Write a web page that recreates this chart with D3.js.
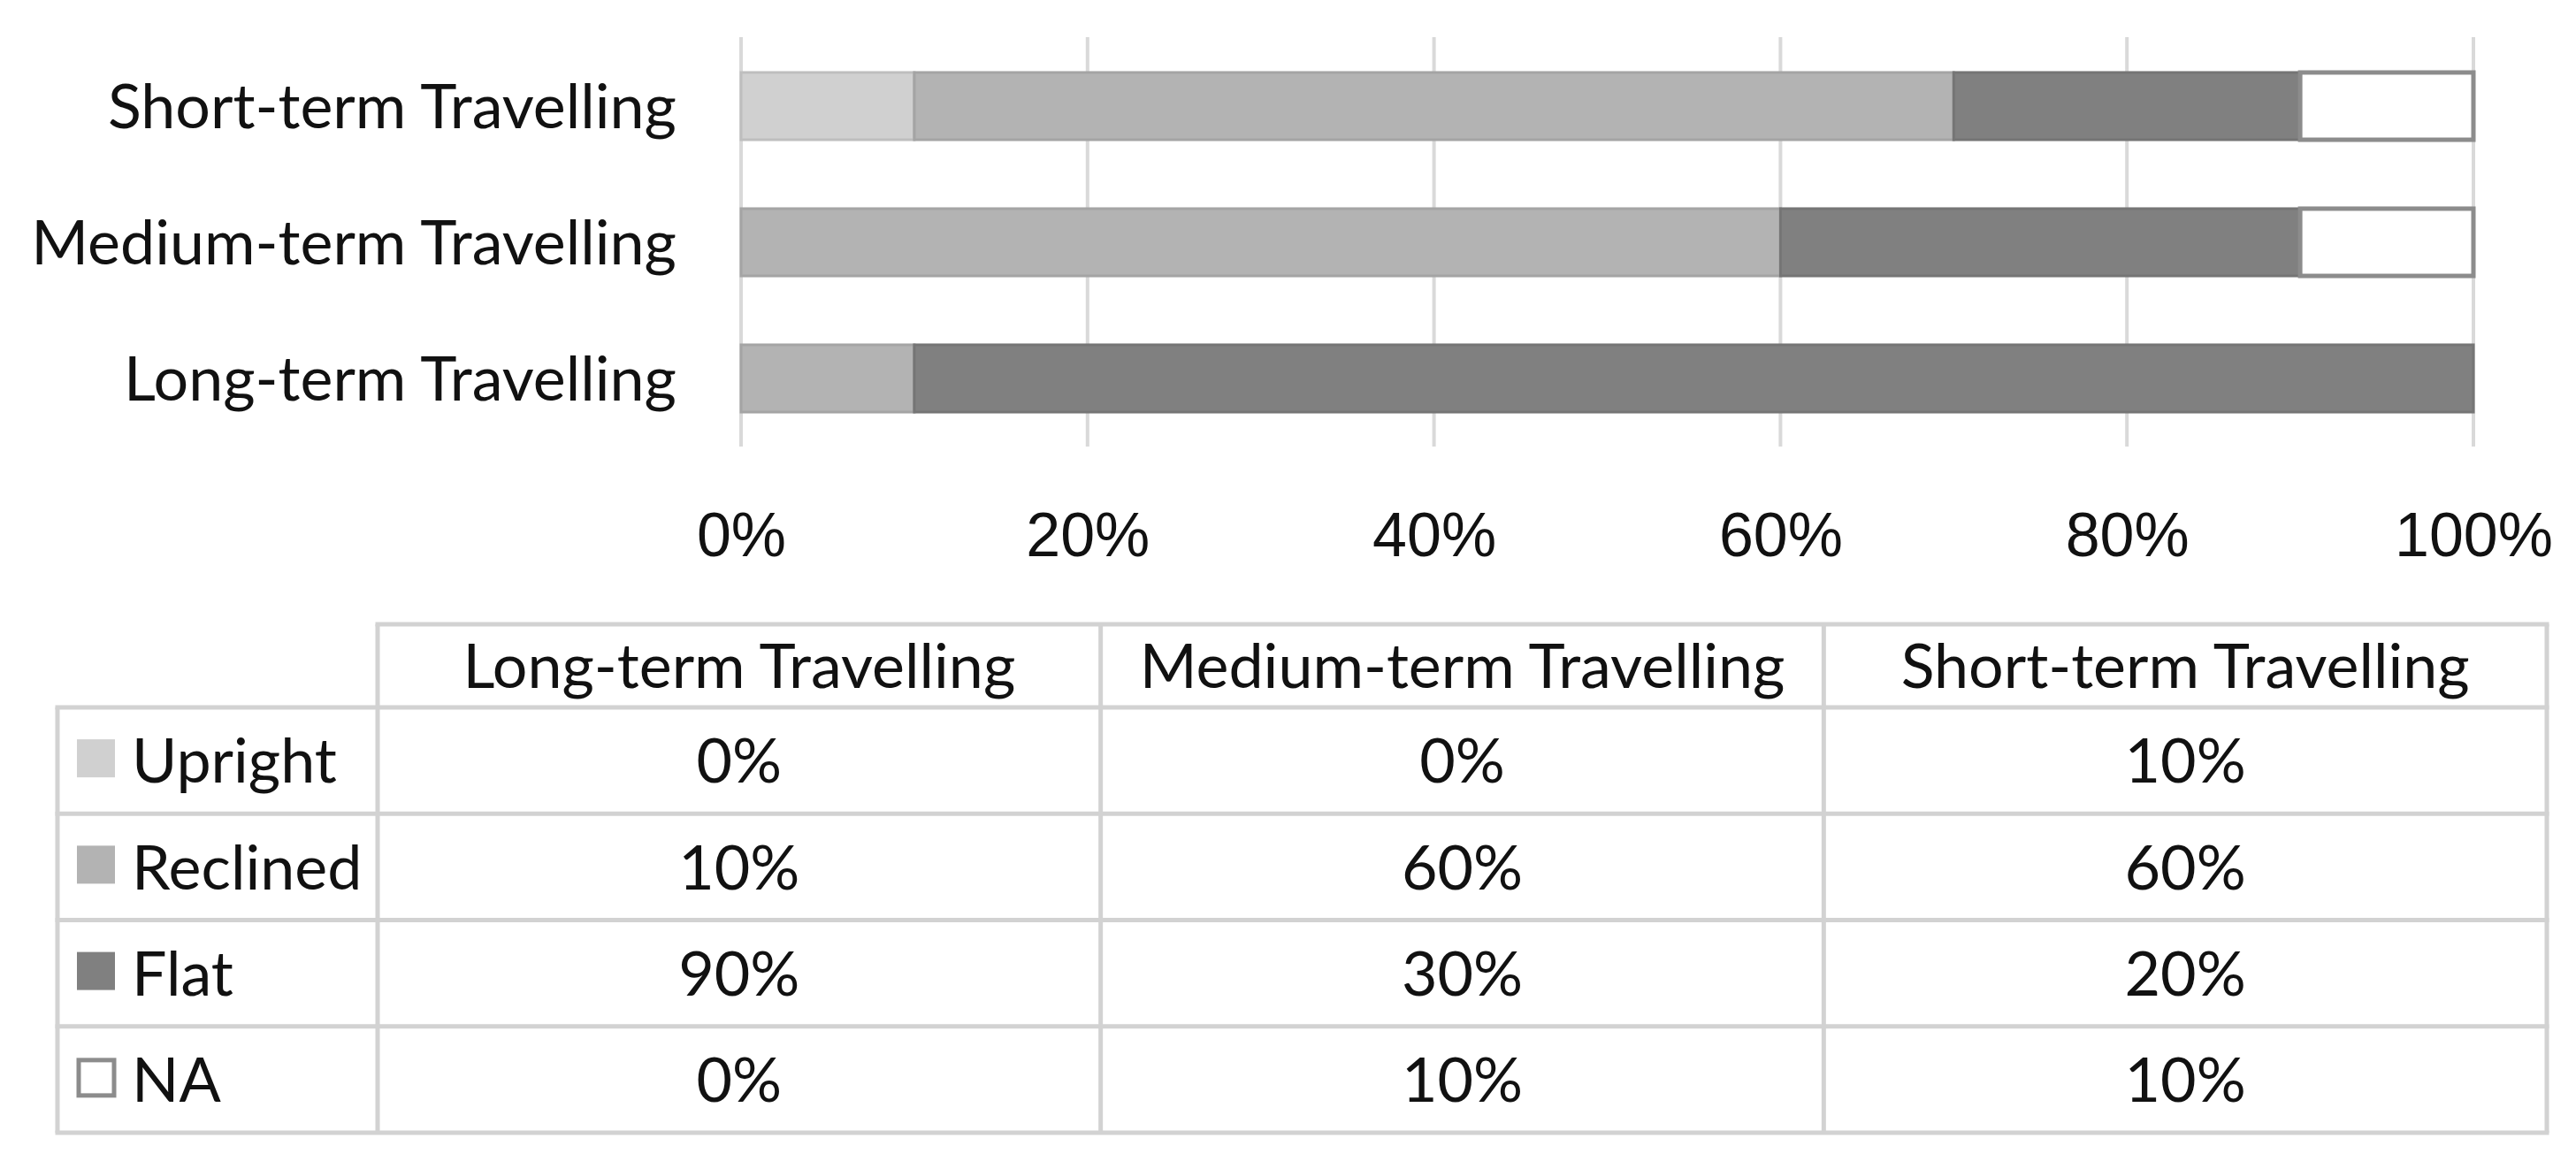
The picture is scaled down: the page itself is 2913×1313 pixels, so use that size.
<!DOCTYPE html>
<html>
<head>
<meta charset="utf-8">
<script src="https://cdn.jsdelivr.net/npm/d3@7"></script>
<style>
  html, body { margin: 0; padding: 0; background: #fff; }
  svg { display: block; font-family: Lato, "Open Sans", sans-serif; }
</style>
</head>
<body>
<script>
// data (percent)
const barOrder = ['Short-term Travelling', 'Medium-term Travelling', 'Long-term Travelling'];
const tableOrder = ['Long-term Travelling', 'Medium-term Travelling', 'Short-term Travelling'];
const positions = ['Upright', 'Reclined', 'Flat', 'NA'];
// values follow tableOrder: Long, Medium, Short
const upright = [0, 0, 10];
const reclined = [10, 60, 60];
const flat = [90, 30, 20];
const na = [0, 10, 10];
const xTicks = [0, 20, 40, 60, 80, 100];

const colors = {
  Upright: '#d0d0d0', Reclined: '#b3b3b3', Flat: '#808080', NA: '#ffffff',
};

const width = 2913;
const height = 1313;

const rows = tableOrder.map((name, i) => ({
  name,
  Upright: upright[i],
  Reclined: reclined[i],
  Flat: flat[i],
  NA: na[i],
}));

const svg = d3.select('body').append('svg')
  .attr('width', width)
  .attr('height', height);

// fit the font so the labels take about the width they do in the picture
const probe = svg.append('text').attr('font-size', 100).text('Long-term Travelling');
const fs = 100 * 625 / probe.node().getComputedTextLength();
probe.remove();
const capShift = fs * 0.36;

const x = d3.scaleLinear()
  .domain([0, 100])
  .range([838, 2797]);

const y = d3.scaleBand()
  .domain(barOrder)
  .range([43, 505])
  .paddingInner(0.506)
  .paddingOuter(0.253);

// gridlines
svg.append('g')
  .selectAll('line')
  .data(xTicks)
  .join('line')
  .attr('x1', d => x(d))
  .attr('x2', d => x(d))
  .attr('y1', 42)
  .attr('y2', 505)
  .attr('stroke', '#d9d9d9')
  .attr('stroke-width', 4);

const series = d3.stack().keys(positions)(rows);

svg.append('g')
  .selectAll('g')
  .data(series)
  .join('g')
  .attr('fill', d => colors[d.key])
  .attr('stroke', d => (d.key === 'NA' ? '#8c8c8c' : d3.color(colors[d.key]).darker(0.25)))
  .attr('stroke-width', d => (d.key === 'NA' ? 5 : 3))
  .selectAll('rect')
  .data(d => d.filter(s => s[1] - s[0] > 0))
  .join('rect')
  .attr('x', d => x(d[0]))
  .attr('y', d => y(d.data.name))
  .attr('width', d => x(d[1]) - x(d[0]))
  .attr('height', y.bandwidth());

// category labels
svg.append('g')
  .attr('font-size', fs)
  .attr('fill', '#111')
  .attr('text-anchor', 'end')
  .selectAll('text')
  .data(barOrder)
  .join('text')
  .attr('x', 765)
  .attr('y', d => y(d) + y.bandwidth() / 2 + capShift)
  .text(d => d);

// x axis labels
const xAxis = g => g
  .attr('transform', 'translate(0,604)')
  .call(d3.axisBottom(x).tickValues(xTicks).tickFormat(d => `${d}%`).tickSize(0).tickPadding(0))
  .call(g => g.select('.domain').remove())
  .call(g => g.selectAll('text')
    .attr('font-size', fs)
    .attr('font-family', null)
    .attr('fill', '#111')
    .attr('dy', null)
    .attr('y', capShift));

svg.append('g').call(xAxis);

// data table
const col = d3.scaleBand()
  .domain(tableOrder)
  .range([427, 2880]);

const row = d3.scaleBand()
  .domain(positions)
  .range([800, 1281]);

const headTop = 706;
const legendLeft = 65;
const gridColor = '#d2d2d2';

const table = svg.append('g');

table.append('g')
  .attr('font-size', fs)
  .attr('fill', '#111')
  .attr('text-anchor', 'middle')
  .selectAll('text')
  .data(tableOrder)
  .join('text')
  .attr('x', d => col(d) + col.bandwidth() / 2)
  .attr('y', (headTop + row.range()[0]) / 2 + capShift)
  .text(d => d);

const cells = positions.flatMap(p => rows.map(r => ({ p, name: r.name, v: r[p] })));

table.append('g')
  .attr('font-size', fs)
  .attr('fill', '#111')
  .attr('text-anchor', 'middle')
  .selectAll('text')
  .data(cells)
  .join('text')
  .attr('x', d => col(d.name) + col.bandwidth() / 2)
  .attr('y', d => row(d.p) + row.bandwidth() / 2 + capShift)
  .text(d => `${d.v}%`);

// legend keys in the first column
const key = table.append('g')
  .selectAll('g')
  .data(positions)
  .join('g')
  .attr('transform', d => `translate(0,${row(d) + row.bandwidth() / 2})`);

key.append('rect')
  .attr('x', d => (d === 'NA' ? 89 : 87))
  .attr('y', d => (d === 'NA' ? -22 : -24))
  .attr('width', d => (d === 'NA' ? 40 : 43))
  .attr('height', d => (d === 'NA' ? 40 : 43))
  .attr('fill', d => colors[d])
  .attr('stroke', d => (d === 'NA' ? '#8c8c8c' : 'none'))
  .attr('stroke-width', 5);

key.append('text')
  .attr('x', 149)
  .attr('y', capShift)
  .attr('font-size', fs)
  .attr('fill', '#111')
  .text(d => d);

// table rules
const hLines = [
  { x1: col.range()[0], x2: col.range()[1], y: headTop },
  ...positions.map(p => ({ x1: legendLeft, x2: col.range()[1], y: row(p) })),
  { x1: legendLeft, x2: col.range()[1], y: row.range()[1] },
];
const vLines = [
  { x: legendLeft, y1: row.range()[0], y2: row.range()[1] },
  ...tableOrder.map(c => ({ x: col(c), y1: headTop, y2: row.range()[1] })),
  { x: col.range()[1], y1: headTop, y2: row.range()[1] },
];

table.append('g')
  .attr('stroke', gridColor)
  .attr('stroke-width', 5)
  .call(g => g.selectAll('.h')
    .data(hLines)
    .join('line')
    .attr('x1', d => d.x1 - 2.5)
    .attr('x2', d => d.x2 + 2.5)
    .attr('y1', d => d.y)
    .attr('y2', d => d.y))
  .call(g => g.selectAll('.v')
    .data(vLines)
    .join('line')
    .attr('x1', d => d.x)
    .attr('x2', d => d.x)
    .attr('y1', d => d.y1)
    .attr('y2', d => d.y2));
</script>
</body>
</html>
